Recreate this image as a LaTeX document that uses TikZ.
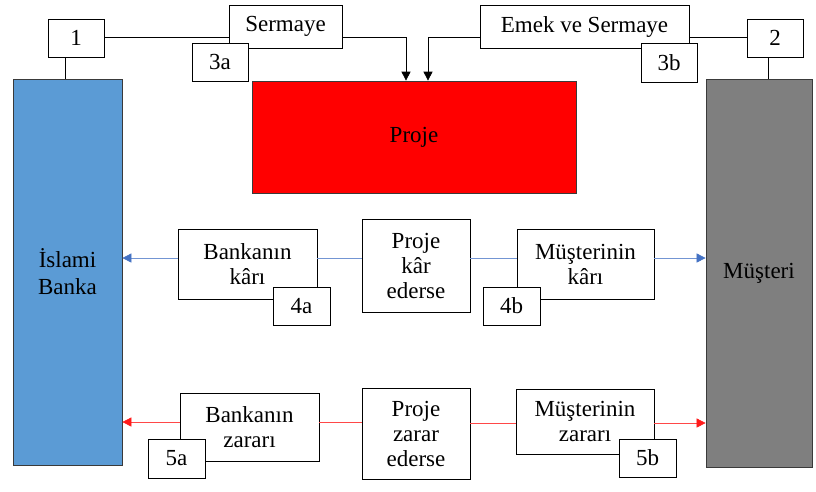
\documentclass[tikz,border=0pt]{standalone}
\usepackage{fontspec}
\setmainfont{Liberation Serif}
\usetikzlibrary{arrows.meta,calc}

\definecolor{bankblue}{HTML}{5B9BD5}
\definecolor{clientgray}{HTML}{7F7F7F}
\definecolor{projred}{HTML}{FF0000}
\definecolor{gainblue}{HTML}{4472C4}
\definecolor{lossred}{HTML}{FF1A1A}
\definecolor{edge}{HTML}{3A3A3A}

\tikzset{
  box/.style={draw=black, line width=0.7pt, fill=white, inner sep=0pt,
    align=center, font=\fontsize{23}{25}\selectfont},
  tag/.style={box, minimum width=56pt, minimum height=38pt},
  party/.style={draw=edge, line width=0.7pt, inner sep=0pt, align=center,
    font=\fontsize{23}{27}\selectfont},
  link/.style={draw=black, line width=0.7pt},
  feed/.style={link, -{Triangle[length=9pt,width=9pt]}},
  gain/.style={draw=gainblue!75, line width=0.6pt, -{Triangle[length=9pt,width=9pt,color=gainblue]}},
  gainlink/.style={draw=gainblue!75, line width=0.6pt},
  loss/.style={draw=lossred!80, line width=0.6pt, -{Triangle[length=9pt,width=9pt,color=lossred]}},
  losslink/.style={draw=lossred!80, line width=0.6pt},
}

\begin{document}
\begin{tikzpicture}[x=1pt, y=-1pt]
\useasboundingbox (0,0) rectangle (816,491);

% parties and the project
\node[party, fill=bankblue, minimum width=109pt, minimum height=386pt] (bank) at (67.5,272) {İslami\\Banka};
\node[party, fill=clientgray, minimum width=106pt, minimum height=388pt] (client) at (759,273) {Müşteri};
\node[party, fill=projred, minimum width=324pt, minimum height=112pt] (proj) at (414,137) {Proje};

% contributions
\node[tag] (n1) at (76,38) {1};
\node[tag] (n2) at (775,38) {2};
\node[box, minimum width=113pt, minimum height=43pt] (cap) at (285.5,26.5) {Sermaye};
\node[tag] (n3a) at (220,62) {3a};
\node[box, minimum width=209pt, minimum height=43pt] (labcap) at (584.5,26.5) {Emek ve Sermaye};
\node[tag, minimum height=39pt] (n3b) at (669,62.5) {3b};

\draw[link] ([xshift=-11pt]n1.south) -- ([xshift=-11pt]n1.south |- bank.north);
\draw[link] ([xshift=-7pt]n2.south) -- ([xshift=-7pt]n2.south |- client.north);
\draw[link] ([yshift=1pt]n1.east) -- ([yshift=1pt]n1.east -| cap.west);
\draw[feed] ([yshift=1pt]n1.east -| cap.east) -| ([xshift=-8pt]proj.north);
\draw[link] ([yshift=1pt]n2.west) -- ([yshift=1pt]n2.west -| labcap.east);
\draw[feed] ([yshift=1pt]n2.west -| labcap.west) -| ([xshift=14pt]proj.north);

% profit case
\node[box, minimum width=139pt, minimum height=70pt] (bgain) at (247.5,264) {Bankanın\\kârı};
\node[tag, minimum width=57pt] (n4a) at (301.5,306) {4a};
\node[box, minimum width=108pt, minimum height=93pt] (pgain) at (416,265.5) {Proje\\kâr\\ederse};
\node[box, minimum width=137pt, minimum height=70pt] (cgain) at (585.5,264) {Müşterinin\\kârı};
\node[tag, minimum width=57pt] (n4b) at (511.5,306) {4b};

\draw[gain] ([yshift=6pt]bgain.west) -- ([yshift=6pt]bgain.west -| bank.east);
\draw[gainlink] ([yshift=6pt]bgain.east) -- ([yshift=6pt]bgain.east -| pgain.west);
\draw[gainlink] ([yshift=6pt]cgain.west -| pgain.east) -- ([yshift=6pt]cgain.west);
\draw[gain] ([yshift=6pt]cgain.east) -- ([yshift=6pt]cgain.east -| client.west);

% loss case
\node[box, minimum width=139pt, minimum height=68pt] (bloss) at (249.5,427) {Bankanın\\zararı};
\node[tag, minimum width=57pt, minimum height=39pt] (n5a) at (176.5,458.5) {5a};
\node[box, minimum width=108pt, minimum height=91pt] (ploss) at (416,433.5) {Proje\\zarar\\ederse};
\node[box, minimum width=138pt, minimum height=65pt] (closs) at (585,421.5) {Müşterinin\\zararı};
\node[tag, minimum width=57pt] (n5b) at (647.5,458) {5b};

\draw[loss] ([yshift=5pt]bloss.west) -- ([yshift=5pt]bloss.west -| bank.east);
\draw[losslink] ([yshift=5pt]bloss.east) -- ([yshift=5pt]bloss.east -| ploss.west);
\draw[losslink] ([yshift=-1.5pt]closs.west -| ploss.east) -- ([yshift=-1.5pt]closs.west);
\draw[loss] ([yshift=-1.5pt]closs.east) -- ([yshift=-1.5pt]closs.east -| client.west);
\end{tikzpicture}
\end{document}
